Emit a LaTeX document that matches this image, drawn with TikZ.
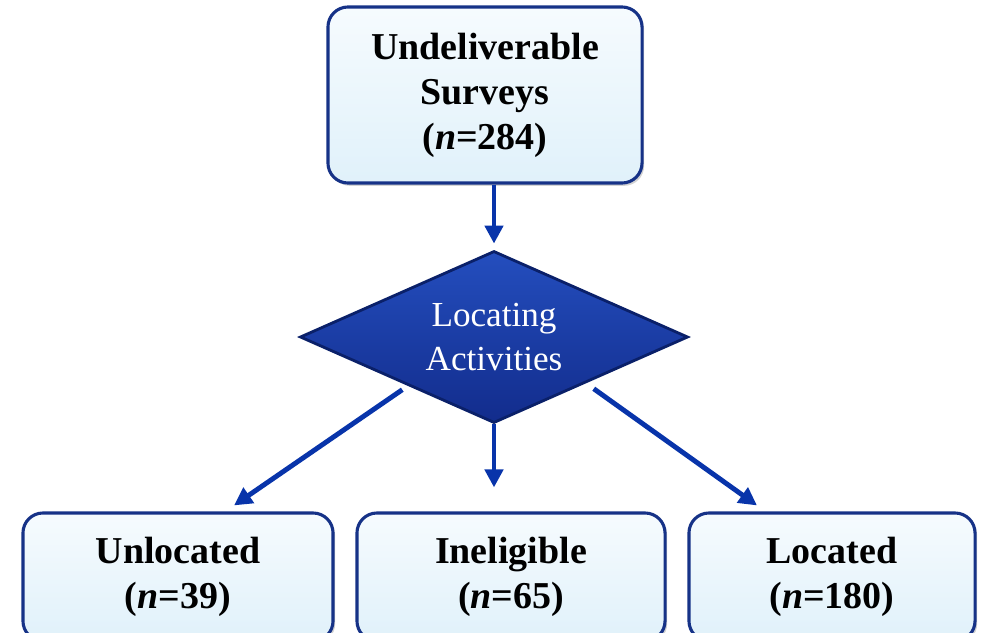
\documentclass[tikz,border=0pt]{standalone}
\usepackage{fontspec}
\setmainfont{Liberation Serif}
\usetikzlibrary{shapes.geometric,arrows.meta,shadows}
\definecolor{boxline}{RGB}{22,50,135}
\definecolor{boxfill}{RGB}{224,241,250}
\definecolor{boxtop}{RGB}{246,251,254}
\definecolor{diatop}{RGB}{36,78,190}
\definecolor{diabottom}{RGB}{18,44,140}
\definecolor{diaedge}{RGB}{10,32,105}
\definecolor{flowblue}{RGB}{8,52,170}

\begin{document}
\begin{tikzpicture}[x=0.025cm,y=-0.025cm,
    stepbox/.style={rectangle, rounded corners=0.5cm, draw=boxline, line width=2.2pt,
        top color=boxtop, bottom color=boxfill, align=center, inner sep=0pt,
        font=\fontsize{27}{32}\selectfont\bfseries,
        drop shadow={shadow xshift=1.5pt, shadow yshift=-2pt, opacity=0.35}},
    decision/.style={diamond, aspect=2.25, draw=diaedge, line width=2pt,
        top color=diatop, bottom color=diabottom, text=white,
        align=center, inner sep=0pt, minimum width=9.7cm, minimum height=4.3cm,
        font=\fontsize{25}{31}\selectfont},
    flow/.style={draw=flowblue, line width=3.5pt, -{Triangle[length=0.45cm,width=0.45cm]}}]
    \useasboundingbox (0,0) rectangle (986,632);
    % boxes
    \node[stepbox, minimum width=7.85cm, minimum height=4.4cm] (surveys) at (485,95) {Undeliverable\\Surveys\\(\textit{n}=284)};
    \node[decision] (locating) at (494,337) {Locating\\Activities};
    \node[stepbox, minimum width=7.75cm, minimum height=3.2cm] (unlocated) at (178,577) {Unlocated\\(\textit{n}=39)};
    \node[stepbox, minimum width=7.7cm, minimum height=3.2cm] (ineligible) at (511,577) {Ineligible\\(\textit{n}=65)};
    \node[stepbox, minimum width=7.15cm, minimum height=3.2cm] (located) at (832,577) {Located\\(\textit{n}=180)};
    % arrows
    \draw[flow, shorten >=0.15cm] (locating.north |- surveys.south) -- (locating.north);
    \draw[flow, shorten >=0.6cm] (locating.south) -- (locating.south |- ineligible.north);
    \draw[flow] ([shift={(6,9)}]locating.south west) -- ([shift={(56,-6)}]unlocated.north);
    \draw[flow] ([shift={(2,8)}]locating.south east) -- ([shift={(-75,-6)}]located.north);
\end{tikzpicture}
\end{document}
